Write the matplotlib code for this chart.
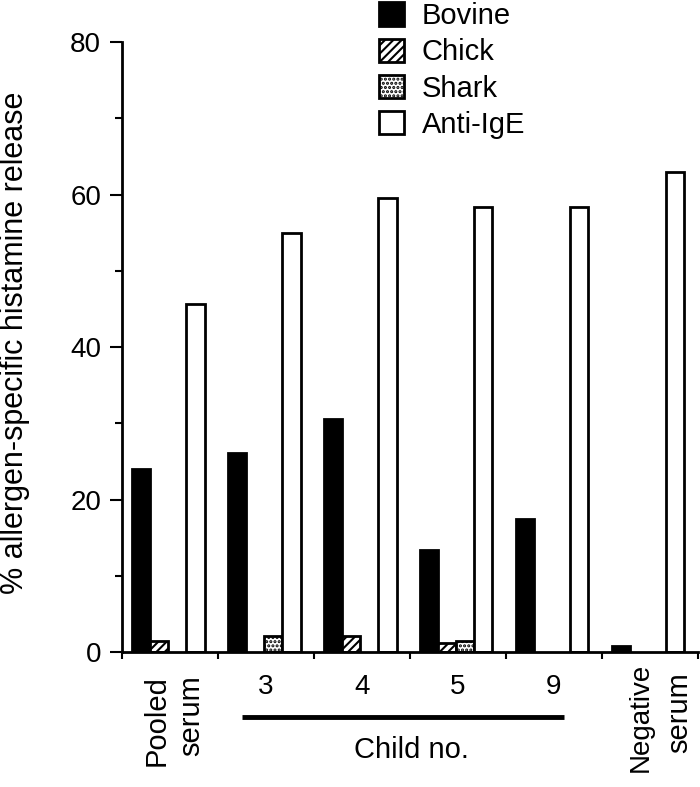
import numpy as np
import matplotlib
matplotlib.use("Agg")
import matplotlib.pyplot as plt
from matplotlib.patches import Patch

plt.rcParams['font.family'] = ['Liberation Sans', 'DejaVu Sans']
plt.rcParams['hatch.linewidth'] = 1.5

# ---------------- data ----------------
groups = ["Pooled serum", "3", "4", "5", "9", "Negative serum"]
series = ["Bovine", "Chick", "Shark", "Anti-IgE"]
bovine = [24.0, 26.1, 30.6, 13.4, 17.4, 0.8]
chick = [1.5, 0.0, 2.1, 1.2, 0.0, 0.0]
shark = [0.0, 2.1, 0.0, 1.5, 0.0, 0.0]
anti_ige = [45.6, 55.0, 59.5, 58.3, 58.4, 63.0]
yticks = [0, 20, 40, 60, 80]

# ---------------- plot ----------------
fig = plt.figure(figsize=(7.0, 7.87), dpi=100)
ax = fig.add_axes([0.1743, 0.1715, 0.8227, 0.7751])

x = np.arange(len(groups))
w = 0.19
styles = [dict(color='black', edgecolor='black'),
          dict(color='white', edgecolor='black', hatch='////'),
          dict(color='white', edgecolor='black', hatch='....'),
          dict(color='white', edgecolor='black')]
data = [bovine, chick, shark, anti_ige]
for k, (vals, st) in enumerate(zip(data, styles)):
    for xi, v in zip(x, vals):
        if v > 0:
            ax.bar(xi + 0.1 + k * w, v, width=w, align='edge', linewidth=2, **st)

ax.set_xlim(0, 6)
ax.set_ylim(0, 80)
ax.set_yticks(yticks)
ax.set_yticks([10, 30, 50, 70], minor=True)
ax.set_xticks(np.arange(7))
ax.set_xticklabels([])
ax.tick_params(axis='y', labelsize=20, width=1.5, length=9, pad=6)
ax.tick_params(axis='y', which='minor', width=1.5, length=5)
ax.tick_params(axis='x', width=1.5, length=5)
for s in ['top', 'right']:
    ax.spines[s].set_visible(False)
for s in ['left', 'bottom']:
    ax.spines[s].set_linewidth(2)

fig.text(15 / 700, 0.565, "% allergen-specific histamine release", rotation=90,
         ha='center', va='center', fontsize=22)

# group labels below the axis
ax.text(0.36, -3.0, "Pooled", rotation=90, ha='center', va='top', fontsize=21)
ax.text(0.72, -3.0, "serum", rotation=90, ha='center', va='top', fontsize=21)
ax.text(5.4, -1.4, "Negative", rotation=90, ha='center', va='top', fontsize=20)
ax.text(5.81, -2.6, "serum", rotation=90, ha='center', va='top', fontsize=21)
for xi, lab in zip(x[1:5], groups[1:5]):
    ax.text(xi + 0.5, -4.6, lab, ha='center', va='center', fontsize=20)
ax.plot([1.25, 4.6], [-8.5, -8.5], color='black', lw=3.5, clip_on=False,
        solid_capstyle='butt')
ax.text(3.02, -12.9, "Child no.", ha='center', va='center', fontsize=21)

handles = [Patch(facecolor=st['color'], edgecolor='black', hatch=st.get('hatch'),
                 linewidth=2) for st in styles]
fig.legend(handles, series, loc='upper left', bbox_to_anchor=(0.525, 1.012),
           frameon=False, fontsize=21, handlelength=0.85, handleheight=0.85,
           handletextpad=0.6, labelspacing=0.28, borderaxespad=0)

fig.savefig("out.png", dpi=100)
